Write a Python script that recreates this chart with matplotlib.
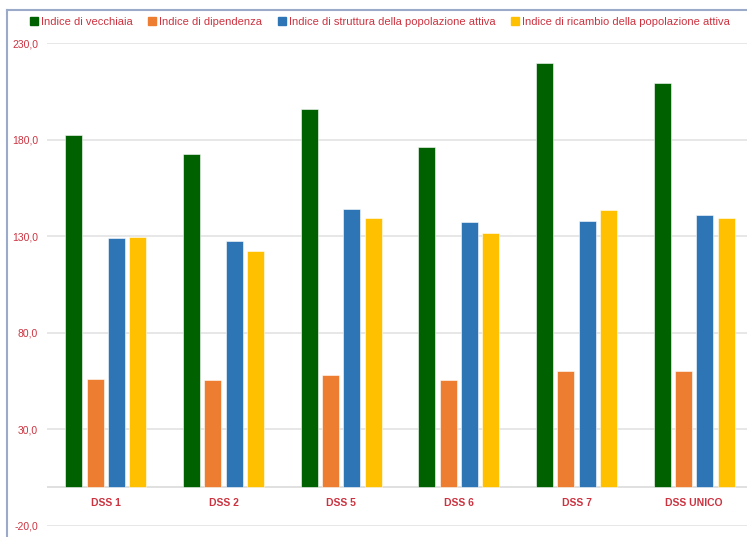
import matplotlib.pyplot as plt
import numpy as np
from matplotlib.lines import Line2D

plt.rcParams['font.family'] = ['Liberation Sans Narrow', 'Liberation Sans', 'DejaVu Sans']

# Indici demografici per distretto
distretti = ['DSS 1', 'DSS 2', 'DSS 5', 'DSS 6', 'DSS 7', 'DSS UNICO']
vecchiaia = [182.7, 172.5, 195.8, 176.1, 219.9, 209.6]
dipendenza = [55.8, 55.6, 58.0, 55.5, 60.0, 60.4]
struttura = [129.2, 127.8, 144.2, 137.5, 138.0, 140.8]
ricambio = [129.6, 122.2, 139.5, 131.8, 143.4, 139.6]

serie = [
    ('Indice di vecchiaia', vecchiaia, '#006100'),
    ('Indice di dipendenza', dipendenza, '#ED7D31'),
    ('Indice di struttura della popolazione attiva', struttura, '#2E75B6'),
    ('Indice di ricambio della popolazione attiva', ricambio, '#FFC000'),
]
yticks = [-20, 30, 80, 130, 180, 230]

red = '#CC3340'

fig = plt.figure(figsize=(7.47, 5.37), dpi=100)
ax = fig.add_axes([47 / 747, 11.3 / 537, 706 / 747, 482.4 / 537])

x = np.arange(len(distretti))
slot = 0.182
width = 0.144
handles = []
for k, (name, vals, col) in enumerate(serie):
    ax.bar(x + (k - 1.5) * slot, vals, width, color=col, zorder=3,
           edgecolor='white', linewidth=0.4)
    handles.append(Line2D([], [], marker='s', linestyle='none', color=col,
                          markersize=6, label=name))

ax.set_xlim(-0.5, len(distretti) - 0.5)
ax.set_ylim(-20, 230)
ax.set_yticks(yticks)
ax.set_yticklabels([f'{v:.1f}'.replace('.', ',') for v in yticks])
ax.tick_params(axis='y', length=0, pad=6.5, labelsize=7.5, labelcolor=red)
ax.set_xticks([])
ax.grid(axis='y', color='#E3E3E3', linewidth=1.2, zorder=0)
ax.axhline(0, color='#DADADA', linewidth=1.2, zorder=1)
for s in ax.spines.values():
    s.set_visible(False)

for i, d in enumerate(distretti):
    ax.text(i, -8.3, d, ha='center', va='center', fontsize=7.5,
            fontweight='bold', color=red)

fig.legend(handles=handles, loc='center left',
           bbox_to_anchor=(24 / 747, 1 - 22 / 537), ncol=4, frameon=False,
           fontsize=8, labelcolor=red, handletextpad=0.1,
           columnspacing=1.3, handlelength=1.0, borderaxespad=0)

# bordo del riquadro
fig.add_artist(Line2D([7 / 747, 7 / 747], [0, 1 - 10 / 537],
                      transform=fig.transFigure, color='#9AAAC8', linewidth=1.5))
fig.add_artist(Line2D([7 / 747, 1], [1 - 10 / 537, 1 - 10 / 537],
                      transform=fig.transFigure, color='#9AAAC8', linewidth=1.5))

fig.savefig('out.png', dpi=100)
